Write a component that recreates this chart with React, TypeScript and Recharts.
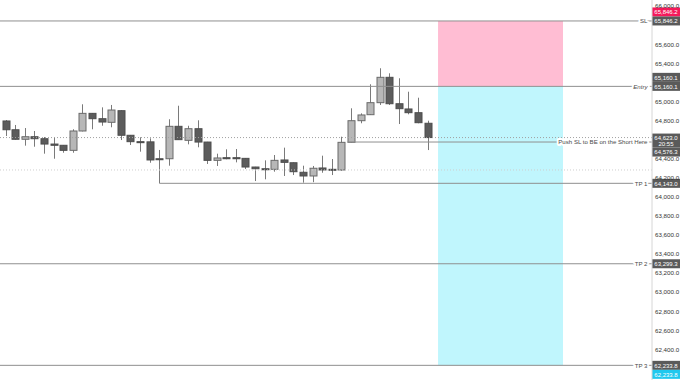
import React from 'react';
import { ComposedChart, Bar, XAxis, YAxis, ReferenceLine, ReferenceArea } from 'recharts';

// ---- Data ----
const openPrices = [64797, 64705, 64605, 64632, 64611, 64555, 64542, 64489, 64692, 64877, 64821, 64783, 64905, 64647, 64580, 64578, 64401, 64401, 64741, 64594, 64716, 64576, 64384, 64412, 64412, 64405, 64314, 64296, 64290, 64388, 64359, 64259, 64220, 64304, 64290, 64283, 64573, 64800, 64863, 64989, 65255, 64978, 64923, 64884, 64773];
const highPrices = [64807, 64755, 64723, 64692, 64629, 64629, 64545, 64710, 64972, 64880, 64940, 64965, 64910, 64650, 64626, 64615, 64493, 64815, 64957, 64747, 64804, 64578, 64454, 64500, 64503, 64408, 64316, 64384, 64440, 64517, 64362, 64328, 64325, 64433, 64398, 64632, 64930, 64877, 65182, 65350, 65297, 65245, 65104, 65041, 64800];
const lowPrices = [64639, 64600, 64538, 64527, 64454, 64401, 64464, 64464, 64688, 64710, 64747, 64731, 64597, 64545, 64475, 64359, 64143, 64328, 64599, 64552, 64521, 64346, 64325, 64395, 64363, 64293, 64167, 64185, 64265, 64220, 64230, 64150, 64155, 64254, 64230, 64275, 64570, 64773, 64860, 64965, 64965, 64765, 64867, 64773, 64492];
const closePrices = [64705, 64605, 64632, 64611, 64555, 64542, 64489, 64692, 64877, 64821, 64786, 64912, 64647, 64580, 64578, 64388, 64391, 64741, 64601, 64716, 64576, 64384, 64409, 64401, 64401, 64314, 64296, 64290, 64384, 64363, 64265, 64220, 64301, 64283, 64283, 64573, 64800, 64860, 64989, 65255, 64978, 64926, 64884, 64779, 64623];

const stopLossPrice = 65846.2;
const entryPrice = 65160.1;
const takeProfit1 = 64143.0;
const takeProfit2 = 63299.3;
const takeProfit3 = 62233.8;
const currentPrice = 64623.0;
const pushSlPrice = 64576.3;
const secondDottedPrice = 64283;
const countdownText = '20:55';
const pushSlText = 'Push SL to BE on the Short Here';

// bar-index ranges
const viewStartIndex = -0.626;
const viewEndIndex = 67.36;
const positionStartIndex = 45.05;
const positionEndIndex = 58.08;
const pushStartIndex = 35.6;
const tp1StartIndex = 16;

const priceDomain = [62080, 66066];
const priceTicks = [62400, 62600, 62800, 63000, 63200, 63400, 63600, 63800, 64000, 64200, 64400, 64800, 65000, 65400, 65600, 66000];

const data = openPrices.map((o, i) => ({
  i,
  o,
  h: highPrices[i],
  l: lowPrices[i],
  c: closePrices[i],
  range: [lowPrices[i], highPrices[i]],
}));

// ---- styles ----
const FONT = '"Liberation Sans", Arial, sans-serif';
const UP_FILL = '#b7b7b7';
const UP_STROKE = '#6a6a6a';
const DOWN_FILL = '#5c5c5c';
const DOWN_STROKE = '#4d4d4d';
const WICK = '#7a7a7a';
const LINE = '#8f8f8f';
const BADGE = '#5a5a5a';
const RED_BADGE = '#f5195a';
const CYAN_BADGE = '#20c8ee';

const fmt = (v: number) =>
  v.toLocaleString('en-US', { minimumFractionDigits: 1, maximumFractionDigits: 1 });

const Candle = (props: any) => {
  const { x, y, width, height, payload } = props;
  if (x == null || payload == null) return null;
  const top = Math.min(y, y + height);
  const h = Math.abs(height);
  const { o, c } = payload;
  const hi = payload.h;
  const lo = payload.l;
  const toPx = (v: number) => top + ((hi - v) / (hi - lo || 1)) * h;
  const cx = Math.round(x + width / 2) + 0.5;
  const up = c > o;
  const bodyTop = toPx(Math.max(o, c));
  const bodyBot = toPx(Math.min(o, c));
  const bw = 7;
  return (
    <g>
      <line x1={cx} x2={cx} y1={top} y2={top + h} stroke={WICK} strokeWidth={1} />
      <rect
        x={cx - bw / 2}
        y={bodyTop}
        width={bw}
        height={Math.max(1, bodyBot - bodyTop)}
        fill={up ? UP_FILL : DOWN_FILL}
        stroke={up ? UP_STROKE : DOWN_STROKE}
        strokeWidth={1}
      />
    </g>
  );
};

const Badge = ({ x, yc, text, fill }: { x: number; yc: number; text: string; fill: string }) => (
  <g>
    <rect x={x} y={yc - 4.5} width={28} height={9} fill={fill} />
    <text x={x + 14} y={yc + 2.2} textAnchor="middle" fontSize={6} fill="#ffffff" fontFamily={FONT}>
      {text}
    </text>
  </g>
);

const makeLineLabel = (
  text: string,
  italic: boolean,
  badges: { dy: number; text: string; fill: string }[],
) => (props: any) => {
  const vb = props.viewBox || {};
  const y = vb.y;
  const right = vb.x + vb.width;
  const textRight = right - 4.5;
  return (
    <g>
      <text
        x={textRight}
        y={y + 2.2}
        textAnchor="end"
        fontSize={6.1}
        fontStyle={italic ? 'italic' : 'normal'}
        fill="#4a4a4a"
        stroke="#ffffff"
        strokeWidth={4}
        strokeLinejoin="round"
        style={{ paintOrder: 'stroke' }}
        fontFamily={FONT}
      >
        {text}
      </text>
      {badges.map((b, k) => (
        <Badge key={k} x={right} yc={y + b.dy} text={b.text} fill={b.fill} />
      ))}
    </g>
  );
};

const currentLabel = (props: any) => {
  const vb = props.viewBox || {};
  const y = vb.y;
  const right = vb.x + vb.width;
  return (
    <g>
      <rect x={right} y={y - 4} width={28} height={14} fill={BADGE} />
      <text x={right + 14} y={y + 2.3} textAnchor="middle" fontSize={6} fill="#fff" fontFamily={FONT}>
        {fmt(currentPrice)}
      </text>
      <text x={right + 14} y={y + 8.5} textAnchor="middle" fontSize={6} fill="#fff" fontFamily={FONT}>
        {countdownText}
      </text>
      <Badge x={right} yc={y + 14.5} text={fmt(pushSlPrice)} fill={BADGE} />
    </g>
  );
};

export default function App() {
  return (
    <div style={{ position: 'absolute', left: 0, top: 0, width: 680, height: 380, background: '#fff' }}>
      <ComposedChart
        width={680}
        height={380}
        data={data}
        margin={{ top: 0, right: 0, bottom: 0, left: 0 }}
      >
        <XAxis
          dataKey="i"
          type="number"
          hide
          domain={[viewStartIndex, viewEndIndex]}
          allowDataOverflow
        />
        <YAxis
          orientation="right"
          width={28}
          type="number"
          domain={priceDomain}
          allowDataOverflow
          ticks={priceTicks}
          interval={0}
          tickSize={0}
          tickMargin={3}
          tickLine={false}
          axisLine={{ stroke: '#d6d6d6' }}
          tick={{ fontSize: 6.2, fill: '#333', fontFamily: FONT, textAnchor: 'start' }}
          tickFormatter={(v: number) => fmt(v)}
        />
        <ReferenceArea
          x1={positionStartIndex}
          x2={positionEndIndex}
          y1={entryPrice}
          y2={stopLossPrice}
          fill="#ffbdd3"
          fillOpacity={1}
          stroke="none"
          ifOverflow="visible"
        />
        <ReferenceArea
          x1={positionStartIndex}
          x2={positionEndIndex}
          y1={takeProfit3}
          y2={entryPrice}
          fill="#c0f6fd"
          fillOpacity={1}
          stroke="none"
          ifOverflow="visible"
        />
        <ReferenceLine y={secondDottedPrice} stroke="#cfcfcf" strokeDasharray="1 2" />
        <ReferenceLine
          y={currentPrice}
          stroke="#a0a0a0"
          strokeDasharray="1 2"
          label={currentLabel}
        />
        <Bar
          dataKey="range"
          barSize={7}
          isAnimationActive={false}
          shape={<Candle />}
        />
        <ReferenceLine
          y={stopLossPrice}
          stroke={LINE}
          label={makeLineLabel('SL', false, [
            { dy: -9, text: fmt(stopLossPrice), fill: RED_BADGE },
            { dy: 0, text: fmt(stopLossPrice), fill: BADGE },
          ])}
        />
        <ReferenceLine
          y={entryPrice}
          stroke={LINE}
          label={makeLineLabel('Entry', true, [
            { dy: -9, text: fmt(entryPrice), fill: BADGE },
            { dy: 0, text: fmt(entryPrice), fill: BADGE },
          ])}
        />
        <ReferenceLine
          segment={[
            { x: tp1StartIndex, y: takeProfit1 },
            { x: viewEndIndex, y: takeProfit1 },
          ]}
          stroke={LINE}
          label={makeLineLabel('TP 1', false, [{ dy: 0, text: fmt(takeProfit1), fill: BADGE }])}
        />
        <ReferenceLine
          y={takeProfit2}
          stroke={LINE}
          label={makeLineLabel('TP 2', false, [{ dy: 0, text: fmt(takeProfit2), fill: BADGE }])}
        />
        <ReferenceLine
          y={takeProfit3}
          stroke={LINE}
          label={makeLineLabel('TP 3', false, [
            { dy: 0, text: fmt(takeProfit3), fill: BADGE },
            { dy: 9, text: fmt(takeProfit3), fill: CYAN_BADGE },
          ])}
        />
        <ReferenceLine
          segment={[
            { x: pushStartIndex, y: pushSlPrice },
            { x: viewEndIndex, y: pushSlPrice },
          ]}
          stroke={LINE}
          label={makeLineLabel(pushSlText, false, [])}
        />
      </ComposedChart>
    </div>
  );
}
